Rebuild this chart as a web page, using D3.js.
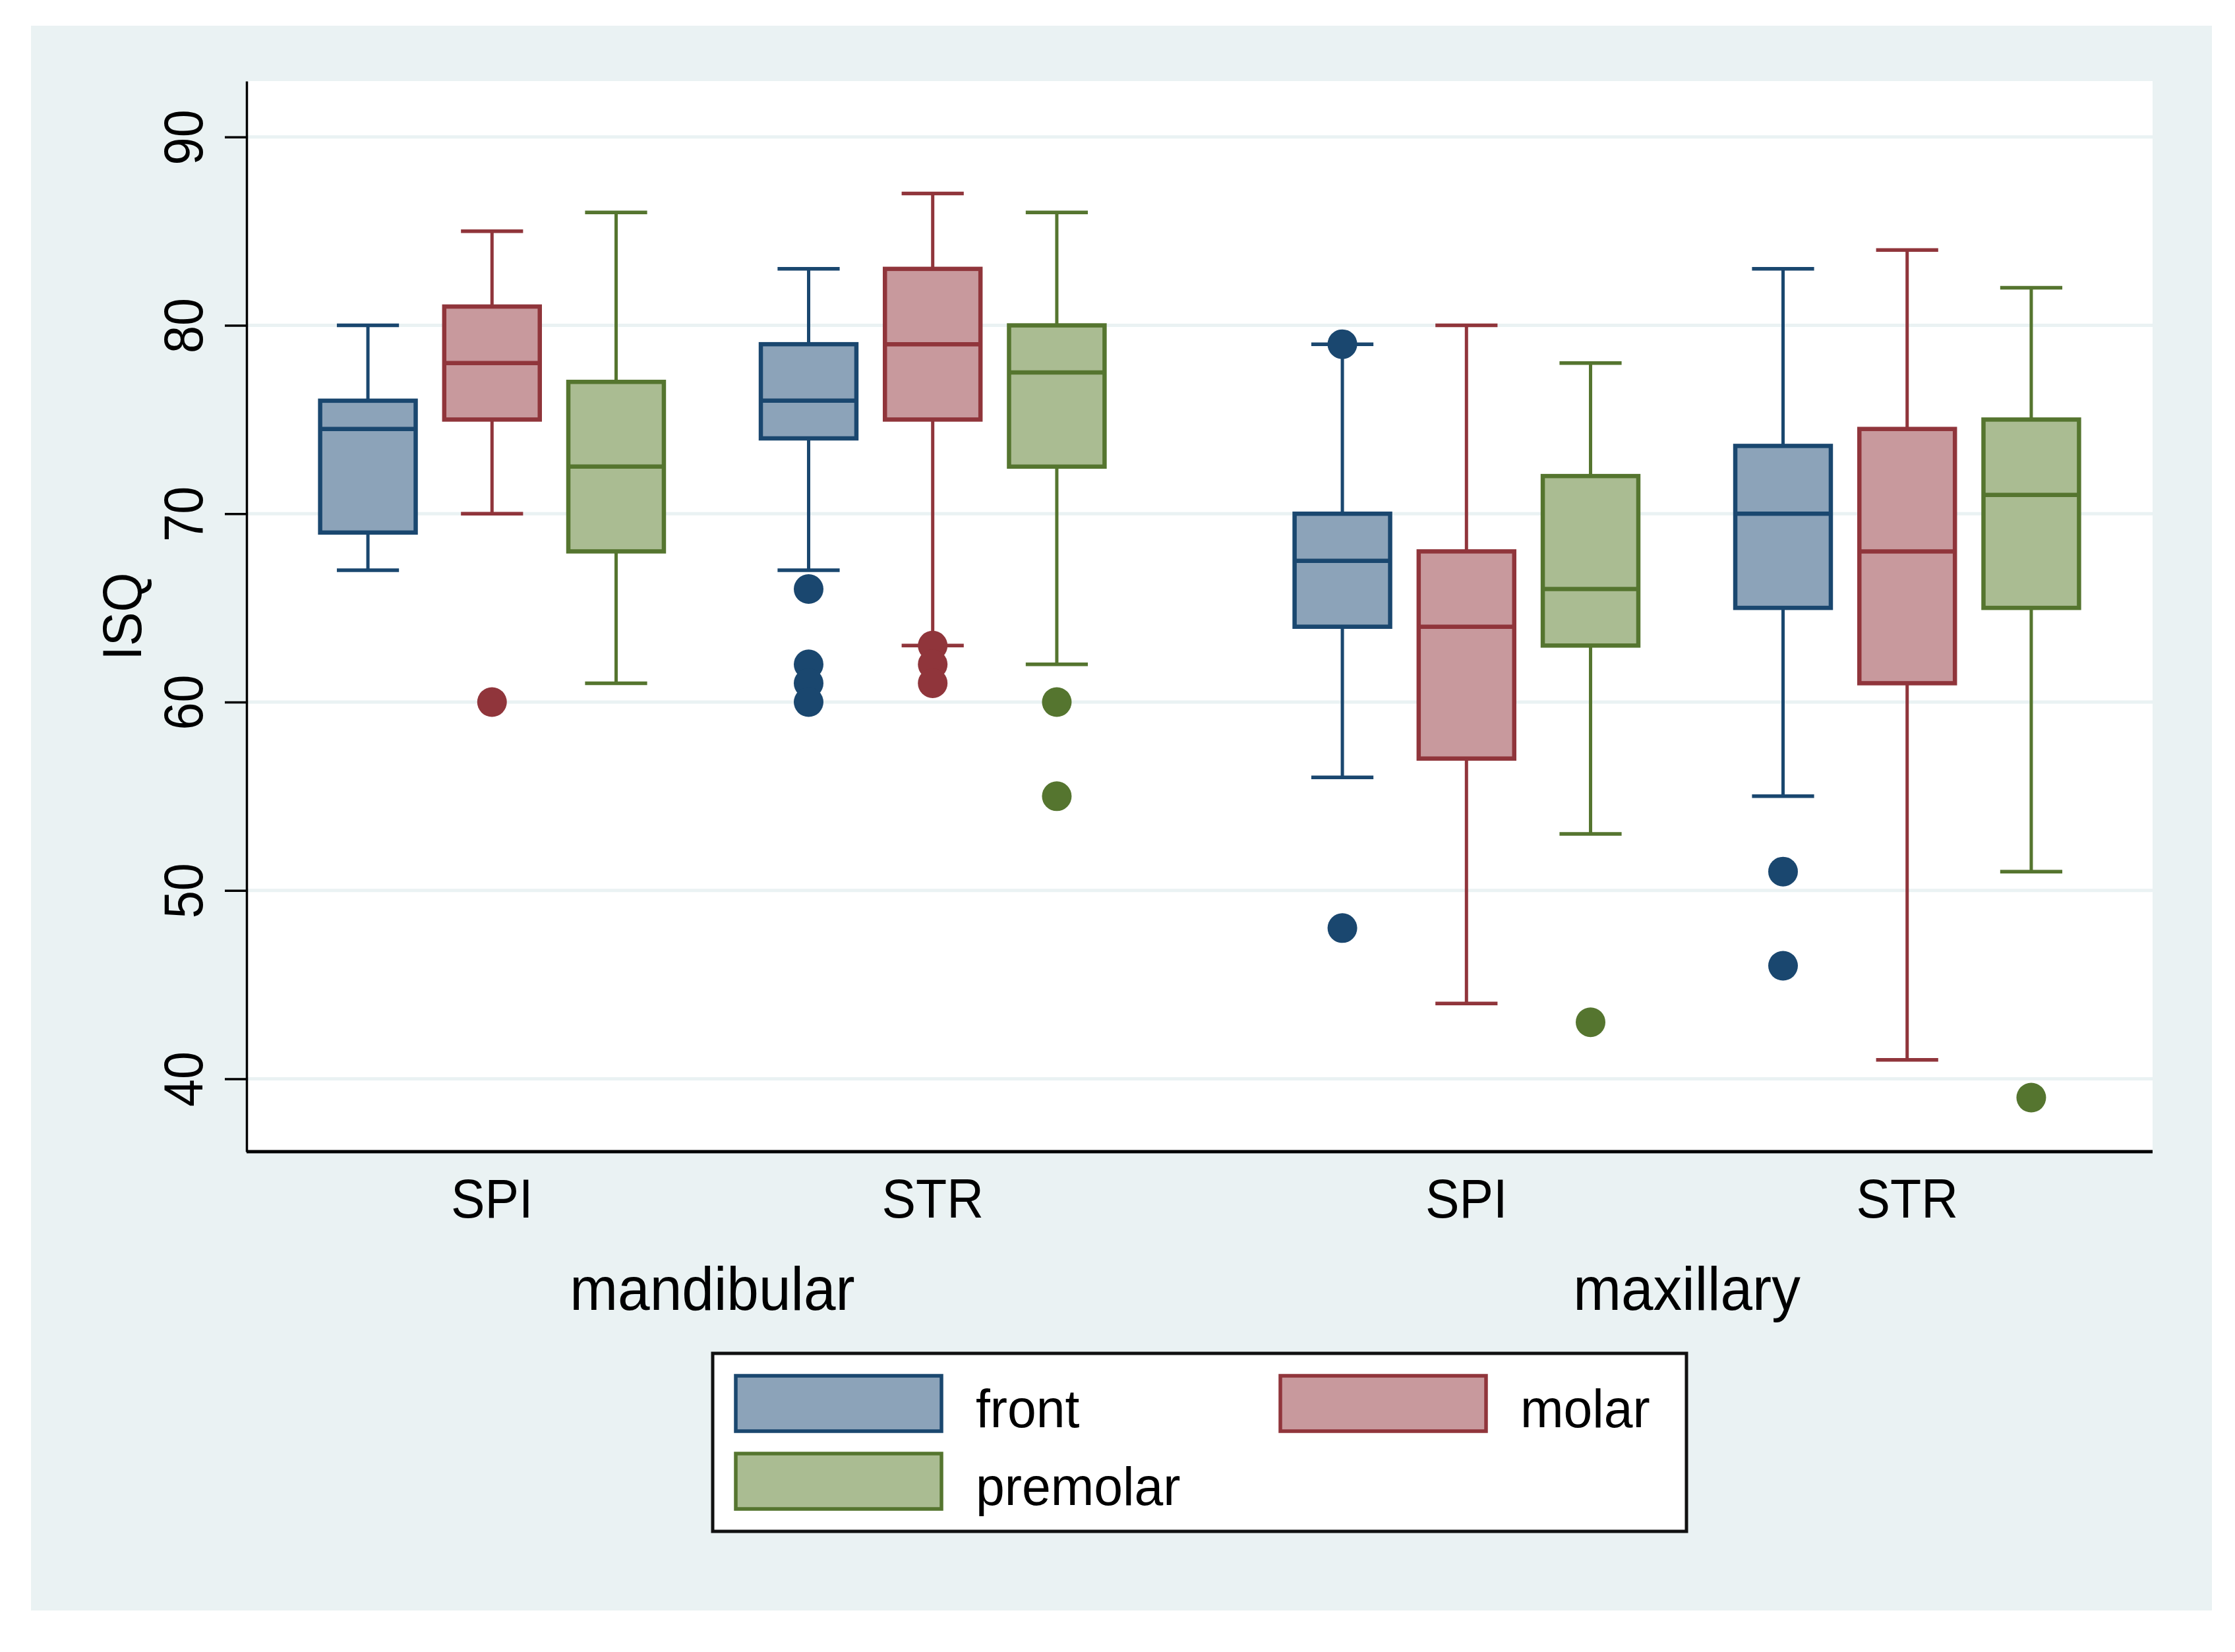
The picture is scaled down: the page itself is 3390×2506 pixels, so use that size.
<!DOCTYPE html>
<html>
<head>
<meta charset="utf-8">
<script src="https://cdn.jsdelivr.net/npm/d3@7"></script>
<style>
  html, body { margin: 0; padding: 0; background: #fff; }
  svg { display: block; }
  text { font-family: "Liberation Sans", Arial, Helvetica, sans-serif; fill: #000; }
</style>
</head>
<body>
<svg id="chart"></svg>
<script>
// categories
const jaws = ['mandibular', 'maxillary'];
const types = ['SPI', 'STR'];
const teeth = ['front', 'molar', 'premolar'];
const legendOrder = ['front', 'molar', 'premolar'];

// box statistics, ordered jaw > type > tooth
const upperWhisker = [80, 85, 86,   83, 87, 86,   79, 80, 78,   83, 84, 82];
const q3 =           [76, 81, 77,   79, 83, 80,   70, 68, 72,   73.6, 74.5, 75];
const median =       [74.5, 78, 72.5, 76, 79, 77.5, 67.5, 64, 66, 70, 68, 71];
const q1 =           [69, 75, 68,   74, 75, 72.5, 64, 57, 63,   65, 61, 65];
const lowerWhisker = [67, 70, 61,   67, 63, 62,   56, 44, 53,   55, 41, 51];
const outliers = [
  [], [60], [],
  [66, 62, 61, 60], [63, 62, 61], [60, 55],
  [79, 48], [], [43],
  [51, 46], [], [39]
];

const yTicks = [40, 50, 60, 70, 80, 90];
const yDomain = [36.13, 92.97];

const lineColor = { front: '#1a476f', molar: '#90353b', premolar: '#55752f' };
const fillColor = { front: '#8ca3b9', molar: '#c8999d', premolar: '#aabc92' };

const W = 3390, H = 2506;
const plot = { left: 374, right: 3265, top: 123, bottom: 1747 };

const svg = d3.select('#chart').attr('width', W).attr('height', H);

// outer graph region
svg.append('rect')
  .attr('x', 47).attr('y', 39)
  .attr('width', 3308).attr('height', 2404)
  .attr('fill', '#eaf2f3');

// plot region
svg.append('rect')
  .attr('x', plot.left).attr('y', plot.top)
  .attr('width', plot.right - plot.left).attr('height', plot.bottom - plot.top)
  .attr('fill', '#ffffff');

// scales
const y = d3.scaleLinear().domain(yDomain).range([plot.bottom, plot.top]);

const jawScale = d3.scaleBand().domain(jaws)
  .range([plot.left, plot.right])
  .paddingInner(0.195).paddingOuter(0.0755);

const typeScale = d3.scaleBand().domain(types)
  .range([0, jawScale.bandwidth()])
  .paddingInner(0.22).paddingOuter(0);

const toothScale = d3.scaleBand().domain(teeth)
  .range([0, typeScale.bandwidth()])
  .paddingInner(0.23).paddingOuter(0);

// text helper: squeeze glyphs a little, like the original rendering
function label(sel, x, yy, str, size, opts = {}) {
  const rot = opts.rotate ? ` rotate(${opts.rotate})` : '';
  return sel.append('text')
    .attr('transform', `translate(${x},${yy})${rot} scale(${opts.sx || 0.92},1)`)
    .attr('text-anchor', opts.anchor || 'middle')
    .attr('font-size', size)
    .text(str);
}

// gridlines
svg.append('g')
  .selectAll('line')
  .data(yTicks)
  .enter().append('line')
  .attr('x1', plot.left).attr('x2', plot.right)
  .attr('y1', d => y(d)).attr('y2', d => y(d))
  .attr('stroke', '#eaf2f3')
  .attr('stroke-width', 5);

// y axis
const yAxisG = svg.append('g')
  .attr('transform', `translate(${plot.left},0)`)
  .call(d3.axisLeft(y).tickValues(yTicks).tickSize(33).tickSizeOuter(0));
yAxisG.select('.domain').attr('stroke', '#000').attr('stroke-width', 3.5);
yAxisG.selectAll('.tick line').attr('stroke', '#000').attr('stroke-width', 3.5);
yAxisG.selectAll('.tick text')
  .attr('x', null).attr('dy', null)
  .attr('transform', 'translate(-67,0) rotate(-90) scale(0.9,1)')
  .attr('text-anchor', 'middle')
  .attr('font-size', 84)
  .attr('font-family', '"Liberation Sans", Arial, sans-serif')
  .attr('fill', '#000');

// x axis line
svg.append('line')
  .attr('x1', jawScale.range()[0]).attr('x2', jawScale.range()[1])
  .attr('y1', y.range()[0]).attr('y2', y.range()[0])
  .attr('stroke', '#000').attr('stroke-width', 5);

// y title
label(svg, 214, (plot.top + plot.bottom) / 2, 'ISQ', 84, { rotate: -90 });

// boxes
const boxes = [];
jaws.forEach((jaw, ji) => {
  types.forEach((type, ti) => {
    teeth.forEach((tooth, ki) => {
      const i = ji * types.length * teeth.length + ti * teeth.length + ki;
      boxes.push({
        jaw, type, tooth,
        x0: jawScale(jaw) + typeScale(type) + toothScale(tooth),
        lo: lowerWhisker[i], q1: q1[i], med: median[i], q3: q3[i], hi: upperWhisker[i],
        out: outliers[i]
      });
    });
  });
});

const bw = toothScale.bandwidth();
const capW = bw * 0.65;

const bg = svg.append('g').selectAll('g')
  .data(boxes)
  .enter().append('g');

// whiskers
bg.append('line')
  .attr('x1', d => d.x0 + bw / 2).attr('x2', d => d.x0 + bw / 2)
  .attr('y1', d => y(d.q3)).attr('y2', d => y(d.hi))
  .attr('stroke', d => lineColor[d.tooth]).attr('stroke-width', 5);
bg.append('line')
  .attr('x1', d => d.x0 + bw / 2).attr('x2', d => d.x0 + bw / 2)
  .attr('y1', d => y(d.q1)).attr('y2', d => y(d.lo))
  .attr('stroke', d => lineColor[d.tooth]).attr('stroke-width', 5);

// caps
bg.append('line')
  .attr('x1', d => d.x0 + (bw - capW) / 2).attr('x2', d => d.x0 + (bw + capW) / 2)
  .attr('y1', d => y(d.hi)).attr('y2', d => y(d.hi))
  .attr('stroke', d => lineColor[d.tooth]).attr('stroke-width', 5.5);
bg.append('line')
  .attr('x1', d => d.x0 + (bw - capW) / 2).attr('x2', d => d.x0 + (bw + capW) / 2)
  .attr('y1', d => y(d.lo)).attr('y2', d => y(d.lo))
  .attr('stroke', d => lineColor[d.tooth]).attr('stroke-width', 5.5);

// box body
bg.append('rect')
  .attr('x', d => d.x0).attr('width', bw)
  .attr('y', d => y(d.q3)).attr('height', d => y(d.q1) - y(d.q3))
  .attr('fill', d => fillColor[d.tooth])
  .attr('stroke', d => lineColor[d.tooth]).attr('stroke-width', 6.5);

// median
bg.append('line')
  .attr('x1', d => d.x0).attr('x2', d => d.x0 + bw)
  .attr('y1', d => y(d.med)).attr('y2', d => y(d.med))
  .attr('stroke', d => lineColor[d.tooth]).attr('stroke-width', 6.5);

// outliers
bg.selectAll('circle')
  .data(d => d.out.map(v => ({ v, tooth: d.tooth, cx: d.x0 + bw / 2 })))
  .enter().append('circle')
  .attr('cx', d => d.cx).attr('cy', d => y(d.v))
  .attr('r', 22.5)
  .attr('fill', d => lineColor[d.tooth]);

// category labels
jaws.forEach(jaw => {
  types.forEach(type => {
    label(svg, jawScale(jaw) + typeScale(type) + typeScale.bandwidth() / 2, 1847, type, 84);
  });
  label(svg, jawScale(jaw) + jawScale.bandwidth() / 2, 1987, jaw, 92, { sx: 0.95 });
});

// legend
const lg = svg.append('g');
lg.append('rect')
  .attr('x', 1081).attr('y', 2053)
  .attr('width', 1477).attr('height', 270)
  .attr('fill', '#fff').attr('stroke', '#111').attr('stroke-width', 5);

const legendPos = {
  front:    { x: 1116, y: 2087, tx: 1480, ty: 2165 },
  molar:    { x: 1942, y: 2087, tx: 2306, ty: 2165 },
  premolar: { x: 1116, y: 2205, tx: 1480, ty: 2283 }
};
legendOrder.forEach(t => {
  const p = legendPos[t];
  lg.append('rect')
    .attr('x', p.x).attr('y', p.y)
    .attr('width', 312).attr('height', 84)
    .attr('fill', fillColor[t])
    .attr('stroke', lineColor[t]).attr('stroke-width', 5.5);
  label(lg, p.tx, p.ty, t, 82, { anchor: 'start', sx: 0.96 });
});
</script>
</body>
</html>
